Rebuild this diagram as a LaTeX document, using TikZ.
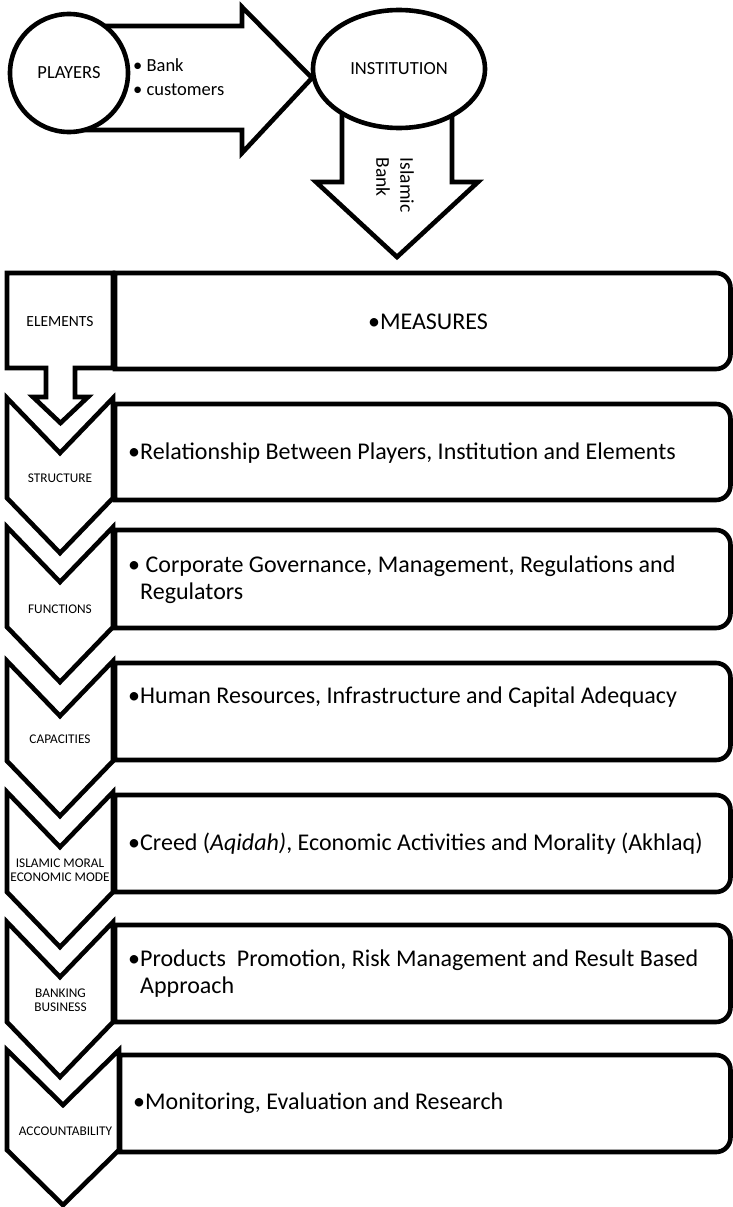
\documentclass[tikz,border=0pt]{standalone}
\usepackage{fontspec}
\setmainfont{Carlito}
\usetikzlibrary{shapes.geometric}

\tikzset{
  outline/.style={draw=black, line width=4.6pt, fill=white, line join=miter, miter limit=10},
  chevlabel/.style={font=\fontsize{13.3}{14}\selectfont, align=center, inner sep=0pt},
  bodytext/.style={font=\fontsize{24}{27}\selectfont, align=left, anchor=west, inner sep=0pt},
  toplabel/.style={font=\fontsize{18.5}{24}\selectfont, inner sep=0pt},
}

% down-pointing chevron: left x, right x, top y
\newcommand{\chevshape}[3]{%
  \path[outline] (#1,#3) -- ({(#1+#2)/2},#3+55) -- (#2,#3) -- (#2,#3+100)
    -- ({(#1+#2)/2},#3+155) -- (#1,#3+100) -- cycle;}

% text panel rounded on its right side: left x, top y, bottom y
\newcommand{\sidebox}[3]{%
  \path[outline] (#1,#2) -- (716,#2) .. controls (724.3,#2) and (730.5,#2+6.7) .. (730.5,#2+15)
    -- (730.5,#3-15) .. controls (730.5,#3-6.7) and (724.3,#3) .. (716,#3) -- (#1,#3) -- cycle;}

\begin{document}
\begin{tikzpicture}[x=1pt,y=-1pt]
\useasboundingbox (0,0) rectangle (733,1207);

% ---- block arrows of the top part
\path[outline] (60,26) -- (242,26) -- (242,7) -- (312,78) -- (242,153) -- (242,130) -- (60,130) -- cycle;
\path[outline] (342,100) -- (342,182) -- (316,182) -- (397,257) -- (478,182) -- (452,182) -- (452,100) -- cycle;

\node[outline, circle, minimum size=118pt, inner sep=0pt, font=\fontsize{18.5}{22}\selectfont]
  (players) at (69,73) {PLAYERS};
\node[outline, ellipse, minimum width=172pt, minimum height=118pt, inner sep=0pt, font=\fontsize{18.5}{22}\selectfont]
  (institution) at (399,69) {INSTITUTION};

\node[toplabel, align=left, anchor=west] (bankcust) at (133,77) {\textbullet\ Bank\\\textbullet\ customers};
\node[font=\fontsize{19.5}{24}\selectfont, align=left, rotate=-90, inner sep=0pt] (islamicbank) at (395,185) {Islamic\\Bank};

% ---- first panel: callout box with a small arrow below
\path[outline] (7,273) -- (113,273) -- (113,368) -- (75,368) -- (75,397) -- (88,397) -- (60.5,423)
  -- (33,397) -- (46,397) -- (46,368) -- (7,368) -- cycle;
\sidebox{115}{273}{369}
\node[font=\fontsize{15.5}{18}\selectfont, inner sep=0pt] (elements) at (60,322) {ELEMENTS};
\node[font=\fontsize{24}{27}\selectfont, inner sep=0pt] (measures) at (428,322) {\textbullet MEASURES};

% ---- chevron rows
\chevshape{7}{113}{398}
\sidebox{115}{404}{500}
\node[chevlabel] (structure) at (60,478) {STRUCTURE};
\node[bodytext] (structuretext) at (140,453) {\llap{\textbullet}Relationship Between Players, Institution and Elements};

\chevshape{7}{113}{527}
\sidebox{115}{530}{628}
\node[chevlabel] (functions) at (60,609) {FUNCTIONS};
\node[bodytext] (functionstext) at (140,579.5) {\llap{\textbullet}\ Corporate Governance, Management, Regulations and\\Regulators};

\chevshape{7}{113}{661}
\sidebox{115}{663}{760}
\node[chevlabel] (capacities) at (60,739) {CAPACITIES};
\node[bodytext] (capacitiestext) at (140,697) {\llap{\textbullet}Human Resources, Infrastructure and Capital Adequacy};

\chevshape{7}{113}{792}
\sidebox{115}{795}{892}
\node[chevlabel] (moral) at (60,870) {ISLAMIC MORAL\\ECONOMIC MODE};
\node[bodytext] (moraltext) at (140,844) {\llap{\textbullet}Creed (\textit{Aqidah)}, Economic Activities and Morality (Akhlaq)};

\chevshape{7}{113}{922}
\sidebox{115}{925}{1022}
\node[chevlabel] (banking) at (60.5,1000.5) {BANKING\\BUSINESS};
\node[bodytext] (bankingtext) at (140,973.5) {\llap{\textbullet}Products\ \ Promotion, Risk Management and Result Based\\Approach};

\chevshape{7}{119}{1050}
\sidebox{120}{1055}{1152}
\node[chevlabel] (accountability) at (65.5,1131) {ACCOUNTABILITY};
\node[bodytext] (accountabilitytext) at (145,1103) {\llap{\textbullet}Monitoring, Evaluation and Research};

\end{tikzpicture}
\end{document}
